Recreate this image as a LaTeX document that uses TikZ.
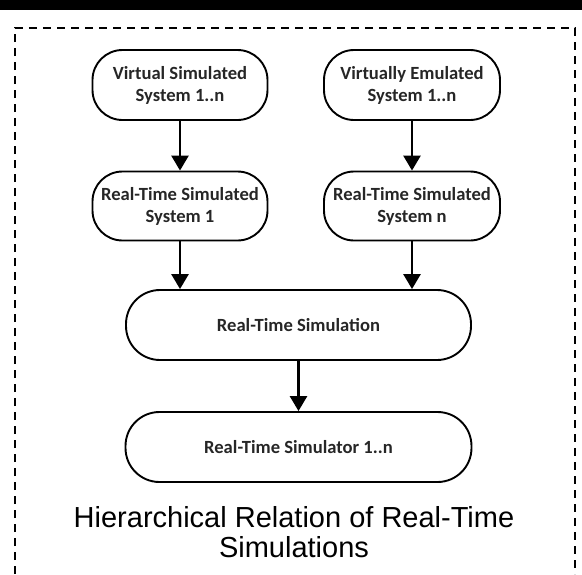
\documentclass[tikz,border=0pt]{standalone}
\usepackage{fontspec}
\setmainfont{Liberation Sans}
\newfontfamily\calib{Carlito}
\usetikzlibrary{arrows.meta}
\begin{document}
\begin{tikzpicture}[x=1pt,y=-1pt,
 box/.style={draw, line width=1.9pt, rounded corners=30pt, align=center,
   font=\calib\bfseries\fontsize{18.6}{22}\selectfont, inner sep=0pt, text=black!85},
 arr/.style={line width=2.8pt, -{Triangle[width=17pt,length=15pt]}},
 frame/.style={line width=1.6pt, dash pattern=on 8pt off 6pt},
 captext/.style={font=\fontsize{29}{30}\selectfont, anchor=base, inner sep=0pt}]
\useasboundingbox (0,0) rectangle (582,574);
\fill[black] (0,0) rectangle (582,10);
\draw[frame] (15,574) -- (15,28) -- (575,28) -- (575,574);
\node[box, minimum width=175pt, minimum height=70pt] (n1) at (180,85) {Virtual Simulated\\System 1..n};
\node[box, minimum width=176pt, minimum height=70pt] (n2) at (412,85) {Virtually Emulated\\System 1..n};
\node[box, minimum width=175pt, minimum height=69pt] (n3) at (180,206) {Real-Time Simulated\\System 1};
\node[box, minimum width=176pt, minimum height=69pt] (n4) at (412,206) {Real-Time Simulated\\System n};
\node[box, rounded corners=34pt, minimum width=345pt, minimum height=70pt] (n5) at (298.5,325) {Real-Time Simulation};
\node[box, rounded corners=34pt, minimum width=346pt, minimum height=70pt] (n6) at (298.5,447) {Real-Time Simulator 1..n};
\draw[arr] (n1.south) -- (n3.north);
\draw[arr] (n2.south) -- (n4.north);
\draw[arr] (n3.south) -- (n3.south |- n5.north);
\draw[arr] (n4.south) -- (n4.south |- n5.north);
\draw[arr] (n5.south) -- (n6.north);
\node[captext] (cap1) at (294,527) {Hierarchical Relation of Real-Time};
\node[captext] (cap2) at (294,557) {Simulations};
\end{tikzpicture}
\end{document}
